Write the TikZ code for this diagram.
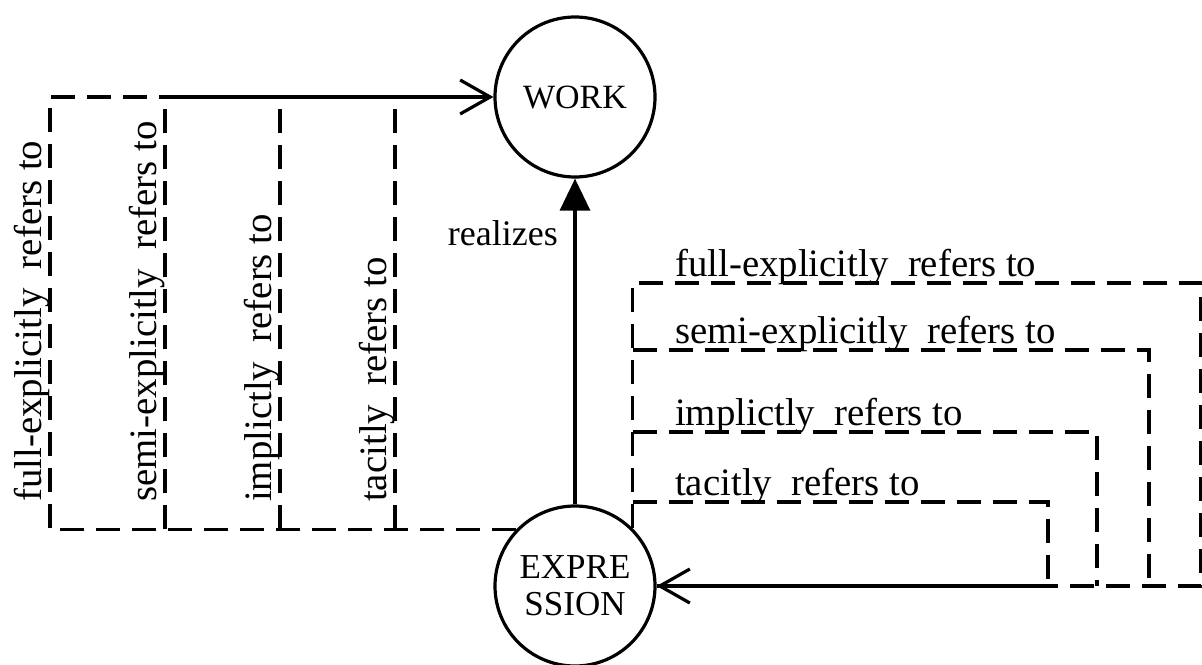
\documentclass[tikz,border=0pt]{standalone}
\usepackage{fontspec}
\setmainfont{Liberation Serif}
\usetikzlibrary{arrows.meta}
\begin{document}
\begin{tikzpicture}[x=1pt,y=-1pt,
  ln/.style={line width=3.2pt},
  dsh/.style={ln, dash pattern=on 24pt off 12pt},
  ent/.style={circle, draw, line width=3.2pt, minimum size=160pt, inner sep=0pt},
  lbl/.style={inner sep=0pt, font=\fontsize{38.8}{46}\selectfont},
  vlbl/.style={lbl, rotate=90, anchor=base west},
  hlbl/.style={lbl, anchor=base west},
  barb/.style={-{Straight Barb[length=30pt,width=34pt]}},
]
\useasboundingbox (0,0) rectangle (1202,664);

% entities
\node[ent, font=\fontsize{34}{40}\selectfont] (work) at (575,97) {WORK};
\node[ent, align=center, font=\fontsize{35}{37}\selectfont] (expr) at (575,586) {EXPRE\\SSION};

% realizes
\draw[ln, -{Triangle[length=32pt,width=30pt]}] (expr) -- (work);
\node[inner sep=0pt, font=\fontsize{36}{42}\selectfont, anchor=base east] (rlz) at (558,245) {realizes};

% left-hand references: expression -> work
\coordinate (lo) at (expr.136);
\coordinate (cf) at (50,97);
\coordinate (cs) at (165,97);
\coordinate (ci) at (280,97);
\coordinate (ct) at (395,97);
\draw[dsh] (lo) -- (lo -| cf) -- (cf) -- (cs);
\draw[dsh] (lo -| cs) -- (cs);
\draw[dsh] (lo -| ci) -- (ci);
\draw[dsh] (lo -| ct) -- (ct);
\draw[ln, barb] (cs) -- (work.west);

\node[vlbl] (lf) at (41,502) {full-explicitly\ \ refers to};
\node[vlbl] (ls) at (156,502) {semi-explicitly\ \ refers to};
\node[vlbl] (li) at (271,502) {implictly\ \ refers to};
\node[vlbl] (lt) at (386,502) {tacitly\ \ refers to};

% right-hand references: expression -> expression
\coordinate (ro) at (expr.45);
\coordinate (rf) at (1201,283);
\coordinate (rs) at (1149,350);
\coordinate (ri) at (1097,432);
\coordinate (rt) at (1048,502);
\draw[dsh] (ro) -- (ro |- rf) -- (rf) -- (rf |- expr.east) -- (rt |- expr.east);
\draw[dsh] (ro |- rs) -- (rs) -- (rs |- expr.east);
\draw[dsh] (ro |- ri) -- (ri) -- (ri |- expr.east);
\draw[dsh] (ro |- rt) -- (rt) -- (rt |- expr.east);
\draw[dsh, barb] (rt |- expr.east) -- (expr.east);
\draw[ln, dash pattern=on 24pt off 12pt, dash phase=18pt] (rt |- expr.east) -- (expr.east);

\node[hlbl] (tf) at (675,276) {full-explicitly\ \ refers to};
\node[hlbl] (ts) at (675,343) {semi-explicitly\ \ refers to};
\node[hlbl] (ti) at (675,425) {implictly\ \ refers to};
\node[hlbl] (tt) at (675,495) {tacitly\ \ refers to};
\end{tikzpicture}
\end{document}
